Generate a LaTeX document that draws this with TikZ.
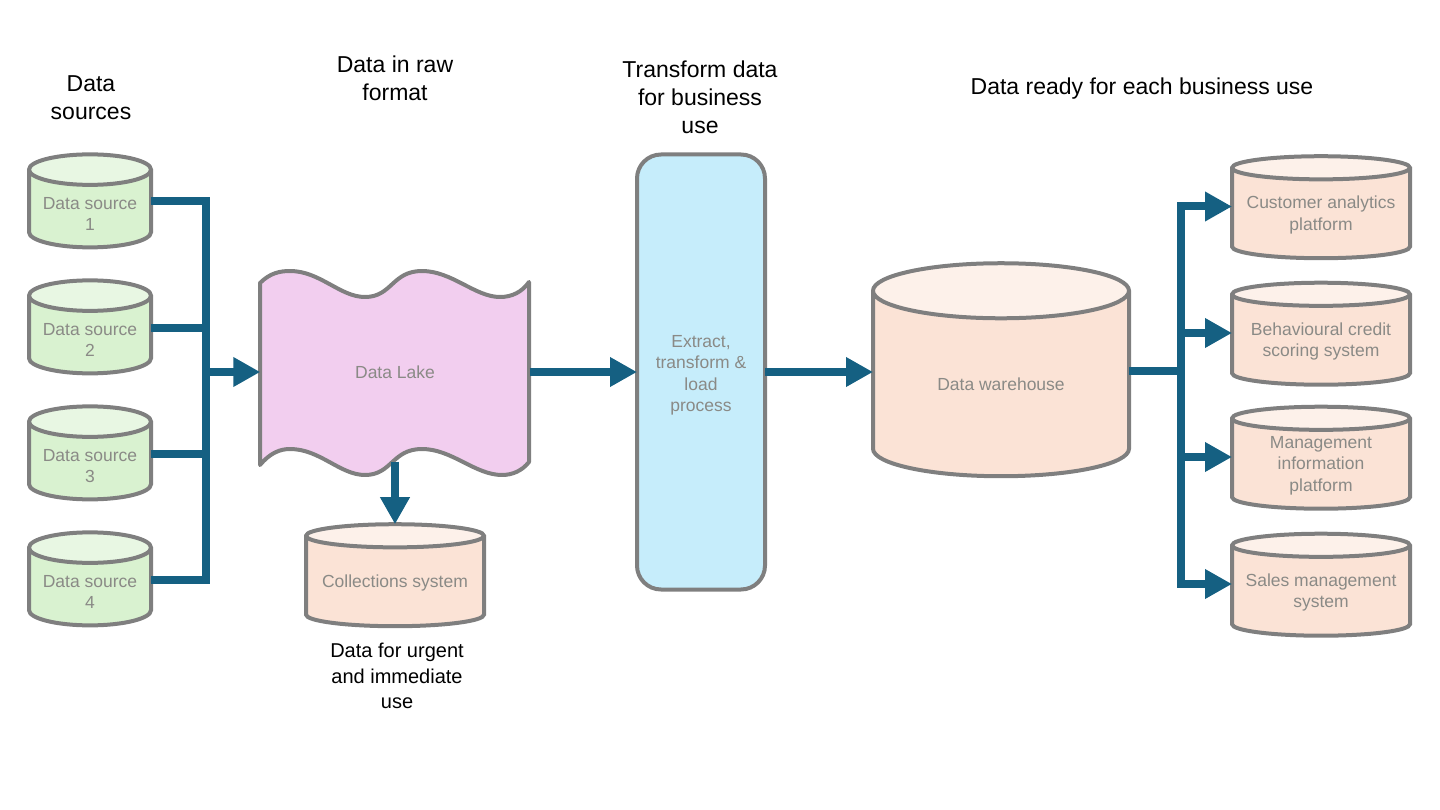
\documentclass[tikz,border=0pt]{standalone}
\usepackage{fontspec}
\setmainfont{Liberation Sans}
\usetikzlibrary{positioning, arrows.meta, shapes.geometric}
\definecolor{flowblue}{HTML}{156082}
\definecolor{edgegrey}{HTML}{7F7F7F}
\definecolor{textgrey}{HTML}{8A8A86}
\definecolor{greenbody}{HTML}{D9F2D0}
\definecolor{greentop}{HTML}{E8F7E3}
\definecolor{orangebody}{HTML}{FBE3D6}
\definecolor{orangetop}{HTML}{FDF1EA}
\definecolor{lakepink}{HTML}{F2CEEF}
\definecolor{etlblue}{HTML}{C6EDFB}
\tikzset{
  boxtext/.style={align=center, text=textgrey, font=\fontsize{17.5}{21.5}\selectfont},
  store/.style={cylinder, shape border rotate=90, draw=edgegrey, line width=4pt, cylinder uses custom fill, inner sep=0pt, outer sep=0pt},
  source/.style={store, cylinder body fill=greenbody, cylinder end fill=greentop, minimum width=122pt, minimum height=93pt, text width=122pt, aspect=0.25},
  target/.style={store, cylinder body fill=orangebody, cylinder end fill=orangetop, minimum width=178pt, minimum height=102pt, text width=178pt, aspect=0.13},
  heading/.style={align=center, text=black, font=\fontsize{23}{28}\selectfont},
  flow/.style={draw=flowblue, line width=8pt},
  flowarrow/.style={flow, -{Triangle[length=27pt, width=28pt]}},
}
\begin{document}
\begin{tikzpicture}[x=1pt, y=-1pt]
  \useasboundingbox (0,0) rectangle (1440,810);

  % sources
  \node[source, label={[boxtext, yshift=-4.5pt]center:Data source\\1}] (src1) at (90,209.5) {};
  \node[source, label={[boxtext, yshift=-4.5pt]center:Data source\\2}] (src2) at (90,335.5) {};
  \node[source, label={[boxtext, yshift=-4.5pt]center:Data source\\3}] (src3) at (90,461.5) {};
  \node[source, label={[boxtext, yshift=-4.5pt]center:Data source\\4}] (src4) at (90,587.5) {};

  % lake
  \fill[fill=lakepink, draw=edgegrey, line width=4pt, line join=round]
    (260,283) .. controls (270,273) and (280,271) .. (290,271)
    .. controls (320,271) and (340,297) .. (365,297)
    .. controls (392,297) and (392,271) .. (422,271)
    .. controls (452,271) and (475,297) .. (500,297)
    .. controls (512,297) and (522,292) .. (529,282)
    -- (529,462)
    .. controls (522,471) and (512,475) .. (502,475)
    .. controls (475,475) and (452,449) .. (422,449)
    .. controls (392,449) and (392,475) .. (365,475)
    .. controls (340,475) and (320,449) .. (290,449)
    .. controls (280,449) and (270,453) .. (260,465)
    -- cycle;
  \node[boxtext, minimum width=269pt, minimum height=179pt, inner sep=0pt] (lake) at (395,372) {Data Lake};

  \node[target, label={[boxtext, yshift=-1pt]center:Collections system}] (coll) at (395,582) {};

  % etl
  \node[draw=edgegrey, line width=4pt, rounded corners=24pt, fill=etlblue, minimum width=128pt, minimum height=435pt, inner sep=0pt, outer sep=0pt, label={[boxtext, yshift=-3.5pt]center:Extract,\\transform \&\\load\\process}] (etl) at (701,372) {};

  \node[target, minimum width=256pt, minimum height=213pt, text width=256pt, aspect=0.215, label={[boxtext, yshift=0pt]center:Data warehouse}] (dw) at (1001,384.5) {};

  % outputs
  \node[target, label={[boxtext, yshift=-1pt]center:Customer analytics\\platform}] (out1) at (1321,214) {};
  \node[target, label={[boxtext, yshift=-1pt]center:Behavioural credit\\scoring system}] (out2) at (1321,340.5) {};
  \node[target, label={[boxtext, yshift=-1pt]center:Management\\information\\platform}] (out3) at (1321,464.5) {};
  \node[target, label={[boxtext, yshift=-1pt]center:Sales management\\system}] (out4) at (1321,591.5) {};

  % headings
  \node[heading] (h1) at (91,98) {Data\\sources};
  \node[heading] (h2) at (395,78) {Data in raw\\format};
  \node[heading] (h3) at (700,97) {Transform data\\for business\\use};
  \node[heading] (h4) at (1142,89) {Data ready for each business use};
  \node[heading, font=\fontsize{20}{25.5}\selectfont] (h5) at (397,676) {Data for urgent\\and immediate\\use};

  % connectors
  \coordinate (busl) at (206,372);
  \coordinate (busr) at (1181,371);
  \draw[flow] ([yshift=8pt]src1.east) -| (busl);
  \draw[flow] ([yshift=8pt]src4.east) -| (busl);
  \draw[flow] ([yshift=8pt]src2.east) -- ([yshift=8pt]src2.east -| busl);
  \draw[flow] ([yshift=8pt]src3.east) -- ([yshift=8pt]src3.east -| busl);
  \draw[flowarrow] (busl) -- (lake.west);
  \draw[flowarrow] (lake.south) -- (coll.north);
  \draw[flowarrow] (lake.east) -- (etl.west);
  \draw[flowarrow] (etl.east) -- (etl.east -| dw.west);
  \draw[flow] ([yshift=13.5pt]dw.east) -- (busr);
  \draw[flowarrow] (busr) |- ([yshift=7.5pt]out1.west);
  \draw[flowarrow] (busr) |- ([yshift=7.5pt]out2.west);
  \draw[flowarrow] (busr) |- ([yshift=7.5pt]out3.west);
  \draw[flowarrow] (busr) |- ([yshift=7.5pt]out4.west);
\end{tikzpicture}
\end{document}
